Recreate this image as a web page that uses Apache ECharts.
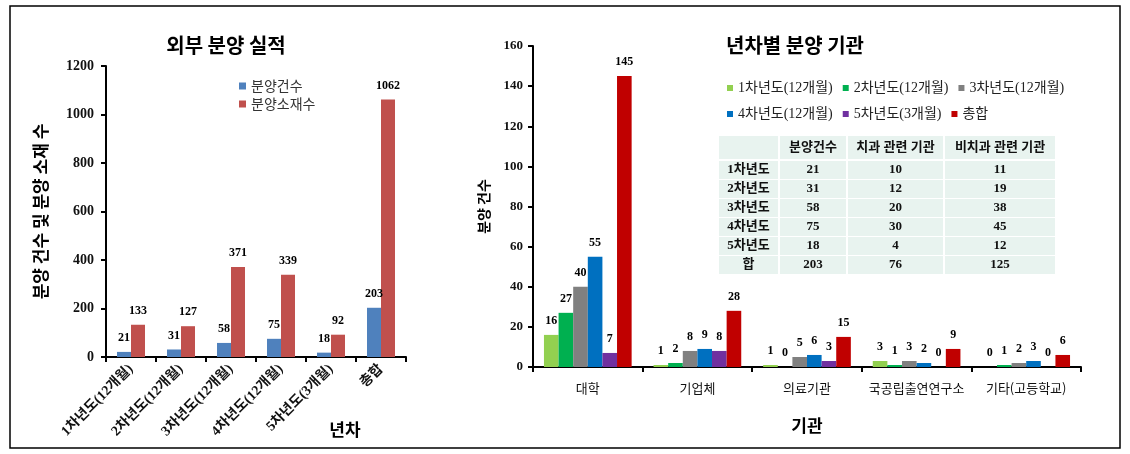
<!DOCTYPE html>
<html>
<head>
<meta charset="utf-8">
<script src="https://cdn.jsdelivr.net/npm/echarts@6/dist/echarts.min.js"></script>
<style>html,body{margin:0;padding:0;background:#fff;}#c{width:1130px;height:454px;}</style>
</head>
<body>
<div id="c"></div>
<script>
// ---------- data ----------
var leftCategories = ['1차년도(12개월)', '2차년도(12개월)', '3차년도(12개월)', '4차년도(12개월)', '5차년도(3개월)', '총합'];
var leftCounts = [21, 31, 58, 75, 18, 203];
var leftMaterials = [133, 127, 371, 339, 92, 1062];
var leftSeriesNames = ['분양건수', '분양소재수'];

var rightCategories = ['대학', '기업체', '의료기관', '국공립출연연구소', '기타(고등학교)'];
var rightSeriesNames = ['1차년도(12개월)', '2차년도(12개월)', '3차년도(12개월)', '4차년도(12개월)', '5차년도(3개월)', '총합'];
var year1 = [16, 1, 1, 3, 0];
var year2 = [27, 2, 0, 1, 1];
var year3 = [40, 8, 5, 3, 2];
var year4 = [55, 9, 6, 2, 3];
var year5 = [7, 8, 3, 0, 0];
var totals = [145, 28, 15, 9, 6];

var tableHeader = ['', '분양건수', '치과 관련 기관', '비치과 관련 기관'];
var tableRowLabels = ['1차년도', '2차년도', '3차년도', '4차년도', '5차년도', '합'];
var tableCounts = [21, 31, 58, 75, 18, 203];
var tableDental = [10, 12, 20, 30, 4, 76];
var tableNonDental = [11, 19, 38, 45, 12, 125];

// ---------- styles ----------
var SERIF = "'Liberation Serif', 'Noto Sans CJK KR', serif";
var SANS = "'Noto Sans CJK KR', sans-serif";
var leftColors = ['#4F81BD', '#C0504D'];
var rightColors = ['#92D050', '#00B050', '#808080', '#0070C0', '#7030A0', '#C00000'];

var chart = echarts.init(document.getElementById('c'), null, {renderer: 'canvas'});

var labelStyle = {show: true, position: 'top', distance: 8, color: '#000', fontFamily: SERIF, fontWeight: 'bold', fontSize: 12};

var series = [];
[leftCounts, leftMaterials].forEach(function (d, i) {
  series.push({
    name: leftSeriesNames[i], type: 'bar', xAxisIndex: 0, yAxisIndex: 0,
    data: d, barGap: '0%', barCategoryGap: '44%',
    itemStyle: {color: leftColors[i]},
    label: Object.assign({}, labelStyle)
  });
});
[year1, year2, year3, year4, year5, totals].forEach(function (d, i) {
  series.push({
    name: rightSeriesNames[i], type: 'bar', xAxisIndex: 1, yAxisIndex: 1,
    data: d, barGap: '0%', barCategoryGap: '20%',
    itemStyle: {color: rightColors[i]},
    label: Object.assign({}, labelStyle)
  });
});

// ---------- table graphic ----------
var colX = [718, 779, 847, 944, 1056];
var headerTop = 136, headerH = 24, rowTop = 161, rowH = 19;
var tableEls = [];
function cell(ci, y, h, text, bold) {
  tableEls.push({
    type: 'rect', shape: {x: colX[ci] + 1, y: y, width: colX[ci + 1] - colX[ci] - 2, height: h - 1},
    style: {fill: '#E8F3EF'}, silent: true
  });
  tableEls.push({
    type: 'text', x: (colX[ci] + colX[ci + 1]) / 2, y: y + (h - 1) / 2,
    style: {text: String(text), align: 'center', verticalAlign: 'middle',
      font: (bold ? 'bold ' : '') + '13px ' + SERIF, fill: '#111'}, silent: true
  });
}
tableHeader.forEach(function (t, ci) { cell(ci, headerTop, headerH, t, true); });
tableRowLabels.forEach(function (lab, ri) {
  var y = rowTop + ri * rowH;
  cell(0, y, rowH, lab, true);
  cell(1, y, rowH, tableCounts[ri], true);
  cell(2, y, rowH, tableDental[ri], true);
  cell(3, y, rowH, tableNonDental[ri], true);
});

var axisLineStyle = {show: true, lineStyle: {color: '#000', width: 2}};

var option = {
  animation: false,
  backgroundColor: '#fff',
  textStyle: {fontFamily: SERIF},
  title: [
    {text: '외부 분양 실적', left: 221, top: 30, textAlign: 'center',
      textStyle: {fontFamily: SANS, fontWeight: 'bold', fontSize: 20, color: '#000'}},
    {text: '년차별 분양 기관', left: 790, top: 30, textAlign: 'center',
      textStyle: {fontFamily: SANS, fontWeight: 'bold', fontSize: 20, color: '#000'}},
    {text: '년차', left: 340, top: 416, textAlign: 'center',
      textStyle: {fontFamily: SANS, fontWeight: 'bold', fontSize: 17, color: '#000'}}
  ],
  legend: [
    {data: leftSeriesNames, orient: 'vertical', left: 234, top: 74, itemGap: 4,
      icon: 'rect', itemWidth: 7, itemHeight: 7,
      textStyle: {fontFamily: SANS, fontSize: 14, color: '#333'}},
    {data: rightSeriesNames.slice(0, 3), orient: 'horizontal', left: 722, top: 76, itemGap: 10,
      icon: 'rect', itemWidth: 6, itemHeight: 6,
      textStyle: {fontFamily: SERIF, fontSize: 14, color: '#222'}},
    {data: rightSeriesNames.slice(3), orient: 'horizontal', left: 722, top: 102, itemGap: 10,
      icon: 'rect', itemWidth: 6, itemHeight: 6,
      textStyle: {fontFamily: SERIF, fontSize: 14, color: '#222'}}
  ],
  grid: [
    {left: 106, top: 66, width: 300, height: 291},
    {left: 533, top: 46, width: 548, height: 321}
  ],
  xAxis: [
    {type: 'category', gridIndex: 0, data: leftCategories,
      axisLine: axisLineStyle, axisTick: {show: true, length: 5, lineStyle: {color: '#000', width: 2}},
      axisLabel: {rotate: 45, interval: 0, margin: 10, fontFamily: SERIF, fontWeight: 'bold', fontSize: 14, color: '#111'}},
    {type: 'category', gridIndex: 1, data: rightCategories,
      name: '기관', nameLocation: 'middle', nameGap: 50,
      nameTextStyle: {fontFamily: SANS, fontWeight: 'bold', fontSize: 17, color: '#000'},
      axisLine: axisLineStyle, axisTick: {show: true, length: 5, lineStyle: {color: '#000', width: 2}},
      axisLabel: {interval: 0, margin: 15, fontFamily: SANS, fontSize: 13, color: '#111'}}
  ],
  yAxis: [
    {type: 'value', gridIndex: 0, min: 0, max: 1200, interval: 200,
      name: '분양 건수 및 분양 소재 수', nameLocation: 'middle', nameGap: 57, nameRotate: 90,
      nameTextStyle: {fontFamily: SANS, fontWeight: 'bold', fontSize: 17, color: '#000'},
      axisLine: axisLineStyle, axisTick: {show: true, length: 5, lineStyle: {color: '#000', width: 2}},
      splitLine: {show: false},
      axisLabel: {margin: 12, fontFamily: SERIF, fontWeight: 'bold', fontSize: 14, color: '#111',
        formatter: function (v) { return String(v); }}},
    {type: 'value', gridIndex: 1, min: 0, max: 160, interval: 20,
      name: '분양 건수', nameLocation: 'middle', nameGap: 42, nameRotate: 90,
      nameTextStyle: {fontFamily: SANS, fontWeight: 'bold', fontSize: 14, color: '#000'},
      axisLine: axisLineStyle, axisTick: {show: true, length: 5, lineStyle: {color: '#000', width: 2}},
      splitLine: {show: false},
      axisLabel: {margin: 10, fontFamily: SERIF, fontWeight: 'bold', fontSize: 13, color: '#111'}}
  ],
  graphic: [
    {type: 'rect', shape: {x: 10, y: 6, width: 1110, height: 442}, style: {fill: 'none', stroke: '#000', lineWidth: 1.5}, silent: true, z: 100},
    {type: 'group', children: tableEls}
  ],
  series: series
};
chart.setOption(option);
</script>
</body>
</html>
